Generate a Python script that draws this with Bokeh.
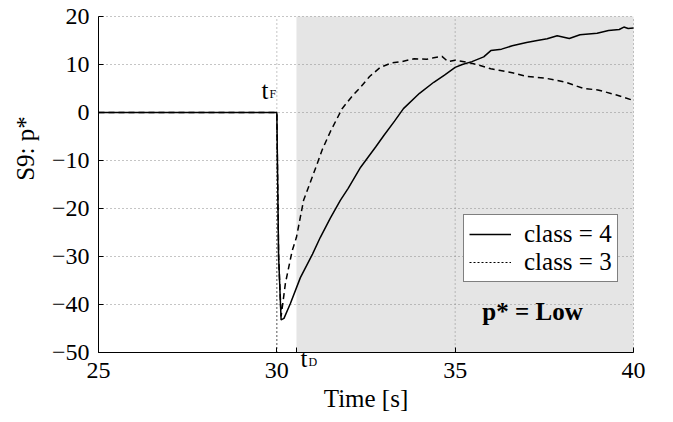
from bokeh.plotting import figure
from bokeh.models import Range1d, Label, Legend, LegendItem, FixedTicker
from bokeh.embed import file_html
from bokeh.resources import INLINE

# ---- data ----
t_class4 = [25, 30.0, 30.05, 30.12, 30.2, 30.38, 30.66, 31.0, 31.22, 31.5, 31.78, 32.0,
            32.35, 32.77, 33.0, 33.3, 33.55, 34.0, 34.4, 34.7, 35.0, 35.2, 35.47, 35.8,
            36.0, 36.3, 36.6, 37.0, 37.3, 37.58, 37.86, 38.2, 38.5, 38.98, 39.3, 39.6,
            39.73, 39.85, 40.0]
y_class4 = [0, 0, -30, -43.2, -42.9, -39.8, -34.4, -29.5, -26, -22, -18.3, -15.8,
            -11.4, -7.2, -4.8, -1.8, 0.8, 4.0, 6.3, 7.8, 9.4, 10.0, 10.6, 11.6,
            12.9, 13.2, 13.9, 14.6, 15.0, 15.35, 16.0, 15.4, 16.2, 16.5, 17.1, 17.3,
            17.8, 17.5, 17.6]

t_class3 = [25, 30.0, 30.05, 30.12, 30.24, 30.43, 30.55, 30.75, 31.13, 31.27, 31.5,
            31.83, 32.1, 32.35, 32.6, 32.9, 33.2, 33.5, 33.85, 34.2, 34.4, 34.63, 34.8,
            35.0, 35.33, 35.7, 36.0, 36.27, 36.6, 37.0, 37.5, 38.1, 38.6, 39.0, 39.5, 40.0]
y_class3 = [0, 0, -30, -42.5, -35.6, -28.8, -26, -18.3, -10.7, -7.8, -4.0,
            0.8, 3.3, 5.3, 7.5, 9.4, 10.3, 10.6, 11.2, 11.1, 11.4, 11.7, 10.6,
            10.9, 10.5, 9.8, 9.1, 8.75, 8.3, 7.5, 7.2, 6.3, 5.0, 4.7, 3.7, 2.5]

x_ticks = [25, 30, 35, 40]
y_ticks = [-50, -40, -30, -20, -10, 0, 10, 20]
y_tick_labels = ["\u221250", "\u221240", "\u221230", "\u221220", "\u221210", "0", "10", "20"]

x_min, x_max = 25, 40
y_min, y_max = -50, 20
t_fault = 30.0
t_detect = 30.55

legend_labels = ["class = 4", "class = 3"]
note_text = "p* = Low"
y_title = "S9: p*"

# ---- layout (pixels in the 673x422 canvas) ----
W, H = 673, 422
PL, PR, PT, PB = 98, 633, 16, 352          # axes box
ux = (x_max - x_min) / (PR - PL)           # data units per px
uy = (y_max - y_min) / (PB - PT)


def dx(px):
    return x_min + (px - PL) * ux


def dy(py):
    return y_min + (PB - py) * uy


SERIF = "Liberation Serif"

p = figure(width=W, height=H, output_backend="svg", toolbar_location=None,
           x_range=Range1d(dx(0), dx(W)), y_range=Range1d(dy(H), dy(0)),
           min_border_left=0, min_border_right=0, min_border_top=0, min_border_bottom=0)
p.outline_line_color = None
p.background_fill_color = "white"
p.border_fill_color = "white"
p.xgrid.visible = False
p.ygrid.visible = False

# shaded detection region
p.quad(left=[t_detect], right=[x_max], bottom=[y_min], top=[y_max],
       fill_color="#e5e5e5", line_color=None)

# dotted grid on the tick values
p.segment(x0=x_ticks, y0=[y_min] * len(x_ticks), x1=x_ticks, y1=[y_max] * len(x_ticks),
          line_color="#8a8a8a", line_width=1, line_dash="1 3")
p.segment(x0=[x_min] * len(y_ticks), y0=y_ticks, x1=[x_max] * len(y_ticks), y1=y_ticks,
          line_color="#8a8a8a", line_width=1, line_dash="1 3")

# fault marker
p.segment(x0=[t_fault], y0=[y_min], x1=[t_fault], y1=[0],
          line_color="black", line_width=1, line_dash="1 3")

r4 = p.line(t_class4, y_class4, line_color="black", line_width=1.5)
r3 = p.line(t_class3, y_class3, line_color="black", line_width=1.5, line_dash="6 4")
r3_leg = p.line(x=[t_class3[0]], y=[float("nan")], line_color="black",
                line_width=1.2, line_dash="2 2")

# axes, pinned to the data box
p.xaxis.fixed_location = y_min
p.yaxis.fixed_location = x_min
p.xaxis.bounds = (x_min, x_max)
p.yaxis.bounds = (y_min, y_max)
p.xaxis.ticker = FixedTicker(ticks=x_ticks + [t_detect])
p.xaxis.major_label_overrides = {t_detect: ""}
p.yaxis.ticker = FixedTicker(ticks=y_ticks)
p.yaxis.major_label_overrides = {v: s for v, s in zip(y_ticks, y_tick_labels)}
for ax in (p.xaxis[0], p.yaxis[0]):
    ax.axis_line_color = "black"
    ax.axis_line_width = 1
    ax.major_tick_in = 5
    ax.major_tick_out = 0
    ax.minor_tick_in = 0
    ax.minor_tick_out = 0
    ax.major_tick_line_color = "black"
    ax.major_label_text_font = SERIF
    ax.major_label_text_font_size = "24px"
    ax.major_label_text_color = "black"
p.xaxis.major_label_standoff = 10
p.yaxis.major_label_standoff = 9
p.xaxis.axis_label = "Time [s]"
p.xaxis.axis_label_text_font = SERIF
p.xaxis.axis_label_text_font_size = "25px"
p.xaxis.axis_label_text_font_style = "normal"
p.xaxis.axis_label_text_color = "black"
p.xaxis.axis_label_standoff = 4

# y axis title
p.add_layout(Label(x=dx(25), y=dy(148), text=y_title, angle=1.5708,
                   text_font=SERIF, text_font_size="25px", text_align="center",
                   text_baseline="middle", text_color="black"))


# t_F and t_D
def sub_label(px, py, main, sub):
    p.add_layout(Label(x=dx(px), y=dy(py), text=main, text_font=SERIF,
                       text_font_size="25px", text_baseline="alphabetic", text_color="black"))
    p.add_layout(Label(x=dx(px + 8), y=dy(py + 3), text=sub, text_font=SERIF,
                       text_font_size="12px", text_baseline="alphabetic", text_color="black"))


sub_label(261, 90, "t", "F")
sub_label(300, 358, "t", "D")

# note
p.add_layout(Label(x=dx(532), y=dy(311), text=note_text, text_font=SERIF,
                   text_font_size="25px", text_font_style="bold", text_align="center",
                   text_baseline="alphabetic", text_color="black"))

legend = Legend(items=[LegendItem(label=legend_labels[0], renderers=[r4]),
                       LegendItem(label=legend_labels[1], renderers=[r3_leg])],
                location=(463, H - 282), orientation="vertical")
legend.label_text_font = SERIF
legend.label_text_font_size = "25px"
legend.label_text_color = "black"
legend.border_line_color = "black"
legend.border_line_width = 1
legend.background_fill_color = "white"
legend.background_fill_alpha = 1
legend.padding = 5
legend.margin = 0
legend.spacing = 0
legend.glyph_width = 42
legend.glyph_height = 28
legend.label_height = 28
legend.label_standoff = 13
p.add_layout(legend, "center")

open("out.html", "w").write(file_html(p, INLINE))
